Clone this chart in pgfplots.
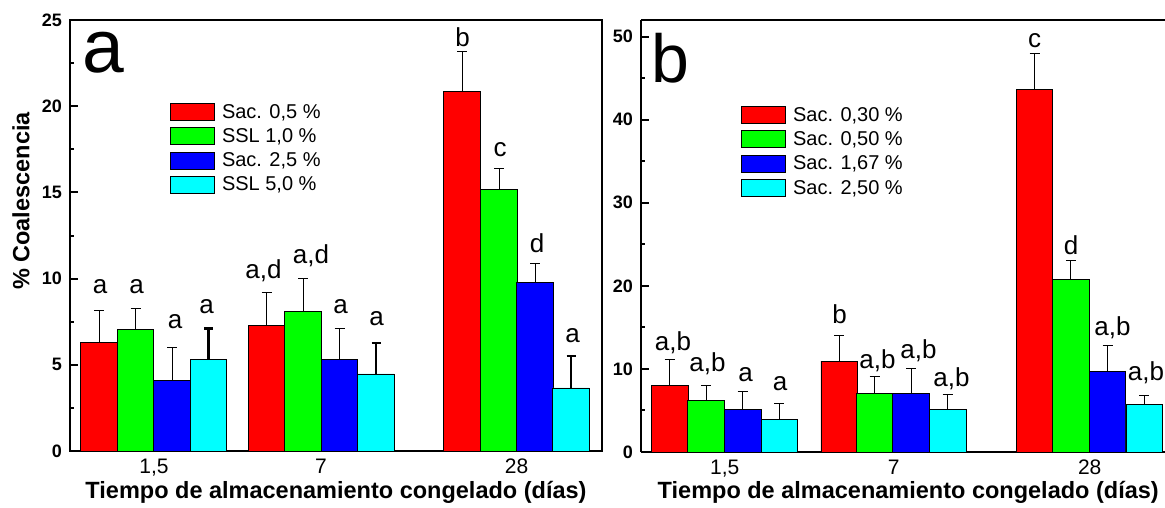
\documentclass[border=0pt]{standalone}
\usepackage{pgfplots}
\usepackage{pgfplotstable}
\usepackage{fontspec}
\setmainfont{Liberation Sans}
\pgfplotsset{compat=1.18}

\definecolor{rojo}{HTML}{FF0000}
\definecolor{verde}{HTML}{00FF00}
\definecolor{azul}{HTML}{0000FF}
\definecolor{celeste}{HTML}{00FFFF}

\newcommand{\leyenda}{\fontsize{20}{20}\selectfont}

% x = bar centre (same units as the picture), y = mean, e = error,
% lx, ly = centre and baseline of the letter above the bar
% panel a
\pgfplotstableread{
x y e lx ly lab
99 6.32 1.83 100 9.13 a
266.7 7.28 1.93 263.5 10.0 a,d
462 20.83 2.35 462.5 23.47 b
}\aRojo
\pgfplotstableread{
x y e lx ly lab
135.5 7.05 1.20 136.7 9.13 a
303 8.07 1.95 311 10.87 a,d
499 15.18 1.20 500 17.10 c
}\aVerde
\pgfplotstableread{
x y e lx ly lab
172 4.09 1.94 175 7.11 a
339.5 5.30 1.83 340.5 7.99 a
535 9.79 1.10 537 11.50 d
}\aAzul
\pgfplotstableread{
x y e lx ly lab
208.5 5.30 1.79 206.7 7.98 a
376 4.47 1.79 376.7 7.28 a
571 3.66 1.85 572.5 6.32 a
}\aCeleste
% panel b
\pgfplotstableread{
x y e lx ly lab
669.7 8.05 3.09 673 12.26 a,b
839.2 10.94 3.04 839.5 15.47 b
1034.5 43.59 4.33 1034.5 48.70 c
}\bRojo
\pgfplotstableread{
x y e lx ly lab
706 6.17 1.88 707.5 9.65 a,b
874.5 7.05 2.00 877.5 10.06 a,b
1070.8 20.79 2.28 1071 23.80 d
}\bVerde
\pgfplotstableread{
x y e lx ly lab
742.7 5.13 2.12 745.5 8.53 a
911 7.09 2.97 918.5 11.26 a,b
1107.5 9.74 3.04 1112.5 14.06 a,b
}\bAzul
\pgfplotstableread{
x y e lx ly lab
779.3 3.89 1.96 780 7.45 a
947.7 5.09 1.84 951.5 7.85 a,b
1144.2 5.73 1.04 1146 8.65 a,b
}\bCeleste

\pgfplotsset{
  barra/.style={ybar, bar shift=0pt, fill=#1, draw=black, line width=0.8pt,
    legend image code/.code={\draw[fill=#1, draw=black, line width=0.8pt] (0pt,-8.5pt) rectangle (44pt,8.5pt);},
    error bars/y dir=plus, error bars/y explicit,
    error bars/error bar style={line width=0.9pt, black},
    error bars/error mark options={line width=0.9pt, black, mark size=5pt, rotate=90}},
  gruesa/.style={error bars/error bar style={line width=2.8pt, black},
    error bars/error mark options={line width=2.8pt, black, mark size=4.5pt, rotate=90}},
  letra/.style={forget plot, draw=none, mark=none, nodes near coords, point meta=explicit symbolic,
    every node near coord/.append style={anchor=base, inner sep=0pt, text=black,
      font=\fontsize{26}{26}\selectfont}},
  panel/.style={scale only axis, ymin=0, bar width=36.5,
    /pgf/number format/assume math mode=true,
    axis line style={line width=2.4pt},
    ytick pos=left, xtick style={draw=none},
    minor y tick num=1,
    major tick length=8pt, minor tick length=4pt,
    tick style={line width=2pt, black},
    yticklabel style={font=\bfseries\fontsize{18}{18}\selectfont, inner sep=0pt},
    yticklabel shift=8pt,
    xticklabel style={font=\fontsize{21}{21}\selectfont, inner sep=0pt},
    xticklabel shift=8pt,
    label style={font=\bfseries\fontsize{23.5}{23.5}\selectfont},
    xlabel={Tiempo de almacenamiento congelado (días)},
    legend cell align=left,
    legend style={draw=none, fill=none, inner sep=0pt, anchor=north west,
      row sep=6.5pt, column sep=7pt, font=\leyenda,
      nodes={inner sep=0pt, outer sep=0pt, font=\leyenda}},
  },
}

\begin{document}
\begin{tikzpicture}
\useasboundingbox (0pt,0pt) rectangle (1165pt,-508pt);

\begin{axis}[panel,
  at={(70pt,-451pt)}, anchor=south west,
  width=532pt, height=431pt,
  xmin=70, xmax=602, ymax=25,
  ytick={0,5,10,15,20,25},
  xtick={154,321,516.5}, xticklabels={{1,5},7,28},
  ylabel={\% Coalescencia},
  ylabel style={at={(axis description cs:-0.092,0.58)}, anchor=center},
  xlabel style={at={(axis description cs:0.5,-0.095)}, anchor=center},
  legend style={at={(0.188,0.808)}},
]
\addplot[barra=rojo] table[x=x, y=y, y error=e] {\aRojo};
\addlegendentry{\leyenda Sac. 0,5 \%}
\addplot[barra=verde] table[x=x, y=y, y error=e] {\aVerde};
\addlegendentry{\leyenda SSL 1,0 \%}
\addplot[barra=azul] table[x=x, y=y, y error=e] {\aAzul};
\addlegendentry{\leyenda Sac. 2,5 \%}
\addplot[barra=celeste, gruesa] table[x=x, y=y, y error=e] {\aCeleste};
\addlegendentry{\leyenda SSL 5,0 \%}
\addplot[letra] table[x=lx, y=ly, meta=lab] {\aRojo};
\addplot[letra] table[x=lx, y=ly, meta=lab] {\aVerde};
\addplot[letra] table[x=lx, y=ly, meta=lab] {\aAzul};
\addplot[letra] table[x=lx, y=ly, meta=lab] {\aCeleste};
\node[anchor=base west, inner sep=0pt, font=\fontsize{75}{75}\selectfont]
  at (rel axis cs:0.024,0.879) {a};
\end{axis}

\begin{axis}[panel,
  at={(641pt,-452pt)}, anchor=south west,
  width=524pt, height=432pt,
  axis x line*=box, axis y line*=left,
  xmin=641, xmax=1165, ymax=52,
  ytick={0,10,20,30,40,50},
  xtick={724.7,893.7,1089.7}, xticklabels={{1,5},7,28},
  xlabel style={at={(axis description cs:0.51,-0.093)}, anchor=center},
  legend style={at={(0.191,0.801)}},
]
\addplot[barra=rojo] table[x=x, y=y, y error=e] {\bRojo};
\addlegendentry{\leyenda Sac. 0,30 \%}
\addplot[barra=verde] table[x=x, y=y, y error=e] {\bVerde};
\addlegendentry{\leyenda Sac. 0,50 \%}
\addplot[barra=azul] table[x=x, y=y, y error=e] {\bAzul};
\addlegendentry{\leyenda Sac. 1,67 \%}
\addplot[barra=celeste] table[x=x, y=y, y error=e] {\bCeleste};
\addlegendentry{\leyenda Sac. 2,50 \%}
\addplot[letra] table[x=lx, y=ly, meta=lab] {\bRojo};
\addplot[letra] table[x=lx, y=ly, meta=lab] {\bVerde};
\addplot[letra] table[x=lx, y=ly, meta=lab] {\bAzul};
\addplot[letra] table[x=lx, y=ly, meta=lab] {\bCeleste};
\node[anchor=base west, inner sep=0pt, font=\fontsize{68}{68}\selectfont]
  at (rel axis cs:0.0205,0.856) {b};
\end{axis}
\end{tikzpicture}
\end{document}
